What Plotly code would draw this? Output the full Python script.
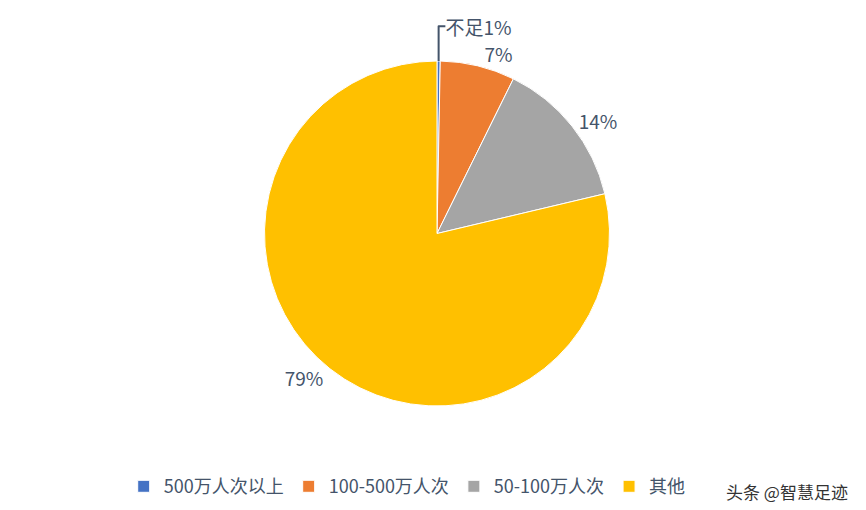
import plotly.graph_objects as go

categories = ["500万人次以上", "100-500万人次", "50-100万人次", "其他"]
values = [0.3, 7, 14, 78.7]
label_text = ["不足1%", "7%", "14%", "79%"]
colors = ["#4472C4", "#ED7D31", "#A5A5A5", "#FFC000"]

fig = go.Figure(go.Pie(
    labels=categories, values=values, text=label_text,
    textinfo="text", textposition="outside",
    textfont=dict(size=19, color="#44546A"),
    marker=dict(colors=colors, line=dict(color="white", width=1)),
    sort=False, direction="clockwise", rotation=0,
    showlegend=True,
))

fig.update_layout(
    width=866, height=510,
    margin=dict(l=0, r=0, t=38, b=112),
    paper_bgcolor="white",
    font=dict(family="Noto Sans CJK SC, sans-serif"),
    legend=dict(orientation="h", x=0.45, xanchor="center", y=-0.18, yanchor="top",
                font=dict(size=18, color="#44546A"), itemwidth=30),
)
fig.add_annotation(text="头条 @智慧足迹", x=1, y=0, xref="paper", yref="paper",
                   xanchor="right", yanchor="bottom", showarrow=False,
                   xshift=115, yshift=-100,
                   font=dict(size=17, color="#333333"))

fig.write_html("out.html")
